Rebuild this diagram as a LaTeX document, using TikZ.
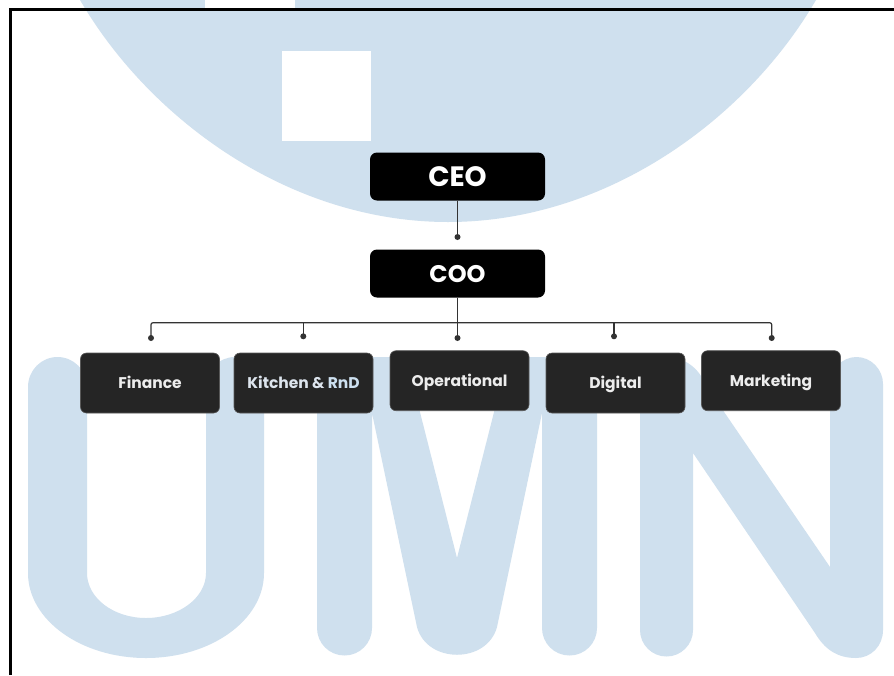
\documentclass[tikz,border=0pt]{standalone}
\usepackage{fontspec}
\newfontfamily\pop{Poppins}
\definecolor{wmblue}{HTML}{CFE0EE}
\definecolor{deptfill}{HTML}{252525}
\definecolor{linec}{HTML}{333333}
\definecolor{kitc}{HTML}{DDE5EE}
\definecolor{rndc}{HTML}{CDE0F0}
\begin{document}
\begin{tikzpicture}[x=1pt,y=-1pt,
  wm/.style={fill=wmblue},
  topbox/.style={fill=black, rounded corners=7pt, minimum width=175pt, minimum height=48pt,
    inner sep=0pt, text=white},
  deptbox/.style={fill=deptfill, draw=black!65, line width=0.6pt, rounded corners=6pt,
    minimum width=139pt, minimum height=60pt, inner sep=0pt, text=black!7,
    font=\pop\bfseries\fontsize{15.5}{16}\selectfont, text height=11pt, text depth=0pt},
  conn/.style={draw=linec, line width=1.2pt},
  dotmark/.style={fill=linec},
]
\useasboundingbox (0,0) rectangle (894,675);
\fill[white] (0,0) rectangle (894,675);

% watermark
\fill[wm] (80,0) .. controls (150,120) and (290,222) .. (448,222)
  .. controls (606,222) and (746,120) .. (816,0) -- cycle;
\fill[white] (282,51) rectangle (371,141);
% U
\fill[wm] (28,387) .. controls (28,370.4) and (41.2,357) .. (57.5,357)
  .. controls (73.8,357) and (87,370.4) .. (87,387) -- (87,573)
  .. controls (87,597.8) and (113.2,618) .. (146,618)
  .. controls (178.8,618) and (206,597.8) .. (206,573) -- (206,386)
  .. controls (206,370) and (219,357) .. (235,357)
  .. controls (251,357) and (264,370) .. (264,386) -- (264,573)
  .. controls (264,620) and (211,658) .. (146,658)
  .. controls (81,658) and (28,620) .. (28,573) -- cycle;
% M
\fill[wm] (317,385) -- (317,628) .. controls (317,643.2) and (329.3,655.5) .. (344.5,655.5)
  .. controls (359.7,655.5) and (372,643.2) .. (372,628) -- (372,413) -- (417,627)
  .. controls (427,664) and (487,664) .. (497,627) -- (542,413) -- (542,628)
  .. controls (542,643.2) and (554.3,655.5) .. (569.5,655.5)
  .. controls (584.7,655.5) and (597,643.2) .. (597,628) -- (597,385)
  .. controls (597,369.5) and (584.7,357) .. (569.5,357) -- (508,357) -- (457,558)
  -- (406,357) -- (344.5,357) .. controls (329.3,357) and (317,369.5) .. (317,385) -- cycle;
% N
\fill[wm] (640,385) -- (640,630) .. controls (640,644.6) and (651.9,656.5) .. (666.5,656.5)
  .. controls (681.1,656.5) and (693,644.6) .. (693,630) -- (693,453) -- (815,633)
  .. controls (825,650) and (838,658) .. (856,658)
  .. controls (871,658) and (883,646) .. (883,630) -- (883,384)
  .. controls (883,369.4) and (871.1,357) .. (856.5,357)
  .. controls (841.9,357) and (830,369.4) .. (830,384) -- (830,567) -- (705,384)
  .. controls (699,368) and (684,357) .. (666.5,357)
  .. controls (651.9,357) and (640,369.4) .. (640,385) -- cycle;

% frame
\draw[line width=2.8pt] (10.5,675) -- (10.5,9.7) -- (894,9.7);
\fill[white] (205,0) rectangle (295,8.3);

% nodes
\node[topbox, font=\pop\bfseries\fontsize{28}{28}\selectfont, text height=20pt, text depth=0pt]
  (ceo) at (457.5,176.5) {CEO};
\node[topbox, font=\pop\bfseries\fontsize{24}{24}\selectfont, text height=17pt, text depth=0pt]
  (coo) at (457.5,273.5) {COO};
\node[deptbox] (fin) at (150,383) {Finance};
\node[deptbox] (kit) at (303.5,383) {\textcolor{kitc}{Kitchen \&} \textcolor{rndc}{RnD}};
\node[deptbox] (ops) at (459.5,380.7) {Operational};
\node[deptbox] (dig) at (615.5,383) {Digital};
\node[deptbox] (mkt) at (771,380.7) {Marketing};

% connector points
\coordinate (dCOO) at (457.5,237);
\coordinate (dFin) at (151,338);
\coordinate (dKit) at (303.3,336.3);
\coordinate (dOps) at (457.5,338);
\coordinate (dDig) at (614,336.3);
\coordinate (dMkt) at (771.7,338);
\coordinate (bus) at (457.5,322.7);

\draw[conn] (ceo.south) -- (dCOO);
\draw[conn] (coo.south) -- (dOps);
\draw[conn, rounded corners=2pt] (dFin) -- (dFin|-bus) -- (dMkt|-bus) -- (dMkt);
\draw[conn] (dKit) -- (dKit|-bus);
\draw[conn] (dDig) -- (dDig|-bus);
\foreach \d in {dCOO,dFin,dKit,dOps,dDig,dMkt}
  \fill[dotmark] (\d) circle[radius=3pt];
\end{tikzpicture}
\end{document}
